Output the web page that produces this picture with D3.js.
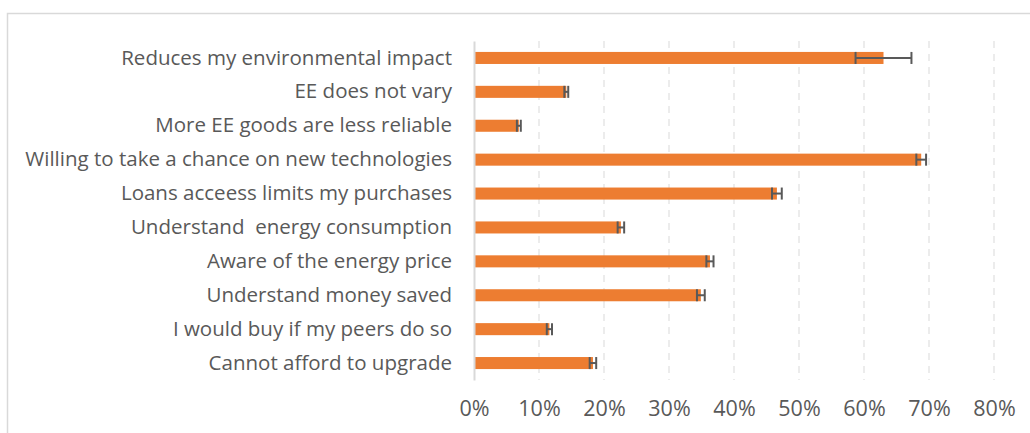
<!DOCTYPE html>
<html>
<head>
<meta charset="utf-8">
<script src="https://cdn.jsdelivr.net/npm/d3@7"></script>
<style>
  body { margin: 0; background: #fff; }
  text { font-family: "Open Sans", sans-serif; fill: #595959; white-space: pre; }
</style>
</head>
<body>
<div id="chart"></div>
<script>
var svgWidth = 1030;
var svgHeight = 433;

// Data (share of respondents, error half-width)
var categories = [
  "Reduces my environmental impact",
  "EE does not vary",
  "More EE goods are less reliable",
  "Willing to take a chance on new technologies",
  "Loans acceess limits my purchases",
  "Understand  energy consumption",
  "Aware of the energy price",
  "Understand money saved",
  "I would buy if my peers do so",
  "Cannot afford to upgrade"
];
var values = [0.63, 0.142, 0.069, 0.688, 0.466, 0.226, 0.363, 0.349, 0.116, 0.183];
var errors = [0.043, 0.003, 0.003, 0.0075, 0.0075, 0.005, 0.0055, 0.006, 0.004, 0.005];
var xTicks = [0, 0.1, 0.2, 0.3, 0.4, 0.5, 0.6, 0.7, 0.8];

var plot = { left: 474, right: 994, top: 41, bottom: 380 };

var svg = d3.select("#chart")
  .append("svg")
  .attr("width", svgWidth)
  .attr("height", svgHeight);

// outer chart frame (runs off the right and bottom of the picture)
svg.append("rect")
  .attr("x", 7.5)
  .attr("y", 13.5)
  .attr("width", 1100)
  .attr("height", 600)
  .attr("fill", "none")
  .attr("stroke", "#d9d9d9")
  .attr("stroke-width", 1.5);

var x = d3.scaleLinear()
  .domain([0, 0.8])
  .range([plot.left, plot.right]);

var y = d3.scaleBand()
  .domain(categories)
  .range([plot.top, plot.bottom])
  .paddingInner(0.645)
  .paddingOuter(0.3225);

// dashed vertical gridlines
svg.append("g")
  .selectAll("line")
  .data(xTicks.slice(1))
  .enter()
  .append("line")
  .attr("x1", d => x(d))
  .attr("x2", d => x(d))
  .attr("y1", plot.top)
  .attr("y2", plot.bottom)
  .attr("stroke", "#e6e6e6")
  .attr("stroke-width", 1.5)
  .attr("stroke-dasharray", "7,6");

// x axis tick labels
var xAxis = d3.axisBottom(x)
  .tickValues(xTicks)
  .tickFormat(d3.format(".0%"))
  .tickSize(0)
  .tickPadding(0);

var xg = svg.append("g")
  .attr("transform", `translate(0, 401)`)
  .call(xAxis);
xg.select(".domain").remove();
xg.selectAll("text")
  .attr("fill", "#595959")
  .attr("font-family", "Open Sans, sans-serif");

// bars
svg.append("g")
  .selectAll("rect")
  .data(values)
  .enter()
  .append("rect")
  .attr("x", x(0))
  .attr("y", (d, i) => y(categories[i]))
  .attr("width", d => x(d) - x(0))
  .attr("height", y.bandwidth())
  .attr("fill", "#ed7d31");

// error bars
var eg = svg.append("g")
  .attr("stroke", "#595959")
  .attr("stroke-width", 2);

values.forEach(function(v, i) {
  var cy = y(categories[i]) + y.bandwidth() / 2;
  var h = y.bandwidth() / 2;
  var lo = x(v - errors[i]);
  var hi = x(v + errors[i]);
  eg.append("line").attr("x1", lo).attr("x2", hi).attr("y1", cy).attr("y2", cy);
  eg.append("line").attr("x1", lo).attr("x2", lo).attr("y1", cy - h).attr("y2", cy + h);
  eg.append("line").attr("x1", hi).attr("x2", hi).attr("y1", cy - h).attr("y2", cy + h);
});

// category axis
var yAxis = d3.axisLeft(y).tickSize(0).tickPadding(22);
var yg = svg.append("g")
  .attr("transform", `translate(${plot.left}, 0)`)
  .call(yAxis);
yg.select(".domain")
  .attr("stroke", "#d9d9d9")
  .attr("stroke-width", 2);
yg.selectAll("text")
  .attr("font-size", 18)
  .attr("fill", "#595959")
  .attr("font-family", "Open Sans, sans-serif");

// fit the longest label to the width it takes in the reference
var longest = d3.max(yg.selectAll("text").nodes(), n => n.getComputedTextLength());
var fs = 18 * 427 / longest;
yg.selectAll("text").attr("font-size", fs);
xg.selectAll("text").attr("font-size", fs + 1);
</script>
</body>
</html>
